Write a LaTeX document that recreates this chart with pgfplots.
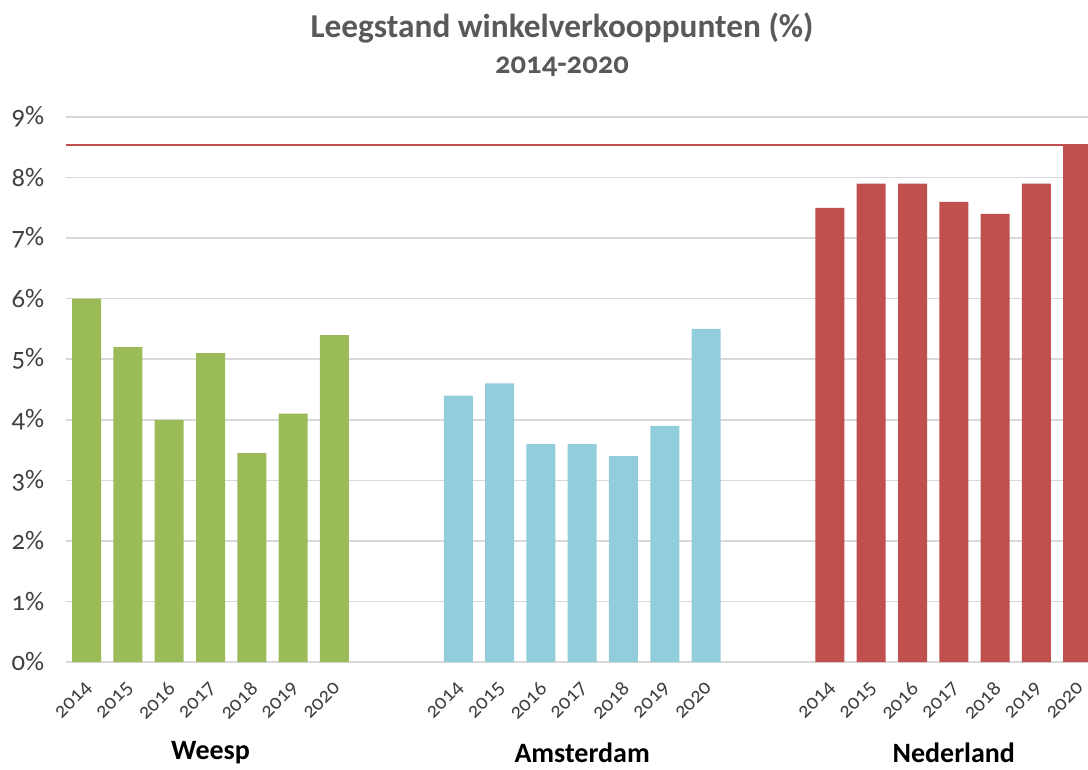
\documentclass[border=0pt]{standalone}
\usepackage{pgfplots}
\pgfplotsset{compat=1.18}
\usepackage{fontspec}
\setmainfont{Carlito}[Numbers=OldStyle]
\definecolor{wgreen}{HTML}{9BBB59}
\definecolor{ablue}{HTML}{92CDDC}
\definecolor{nred}{HTML}{C0504D}
\definecolor{gridc}{HTML}{D9D9D9}
\definecolor{txt}{HTML}{404040}
\definecolor{ttl}{HTML}{595959}
\newlength\px
\setlength\px{0.75pt}
\begin{document}
\begin{tikzpicture}
\begin{axis}[
  at={(0,0)}, anchor=south west,
  scale only axis, width=1022\px, height=545\px,
  xmin=-0.5, xmax=24.25, ymin=0, ymax=9,
  axis line style={draw=none},
  major tick style={draw=none},
  ymajorgrids, grid style={gridc, line width=1.6\px},
  ytick={0,1,2,3,4,5,6,7,8,9},
  yticklabels={0\%,1\%,2\%,3\%,4\%,5\%,6\%,7\%,8\%,9\%},
  yticklabel style={font=\fontsize{20}{20}\selectfont, color=txt, xshift=-17\px},
  xtick={0,1,2,3,4,5,6,9,10,11,12,13,14,15,18,19,20,21,22,23,24},
  xticklabels={2014,2015,2016,2017,2018,2019,2020,2014,2015,2016,2017,2018,2019,2020,2014,2015,2016,2017,2018,2019,2020},
  xticklabel style={font=\fontsize{16}{16}\selectfont, color=txt, rotate=45, anchor=east, xshift=4\px, yshift=-4\px},
  xticklabel shift=20\px,
  /pgf/number format/assume math mode=true,
  clip=false,
]
\addplot[ybar, bar width=29\px, bar shift=0pt, fill=wgreen, draw=none] coordinates {
(0,6.0) (1,5.2) (2,4.0) (3,5.1) (4,3.45) (5,4.1) (6,5.4)};
\addplot[ybar, bar width=29\px, bar shift=0pt, fill=ablue, draw=none] coordinates {
(9,4.4) (10,4.6) (11,3.6) (12,3.6) (13,3.4) (14,3.9) (15,5.5)};
\addplot[ybar, bar width=29\px, bar shift=0pt, fill=nred, draw=none] coordinates {
(18,7.5) (19,7.9) (20,7.9) (21,7.6) (22,7.4) (23,7.9) (24,8.53)};
\addplot[nred, line width=2\px] coordinates {(-0.5,8.53) (24.25,8.53)};
\node[font=\bfseries\fontsize{21}{21}\selectfont, text=black] at (axis cs:3,0) [yshift=-91\px] {Weesp};
\node[font=\bfseries\fontsize{21}{21}\selectfont, text=black] at (axis cs:12,0) [yshift=-91\px] {Amsterdam};
\node[font=\bfseries\fontsize{21}{21}\selectfont, text=black] at (axis cs:21,0) [yshift=-91\px] {Nederland};
\end{axis}
\node[font=\bfseries\fontsize{25}{25}\selectfont, text=ttl] at (496\px,634\px) {Leegstand winkelverkooppunten (\%)};
\node[font=\bfseries\fontsize{23}{23}\selectfont, text=ttl] at (496\px,595\px) {2014-2020};
\pgfresetboundingbox
\useasboundingbox (-66\px,-107\px) rectangle (1022\px,662\px);
\end{tikzpicture}
\end{document}
